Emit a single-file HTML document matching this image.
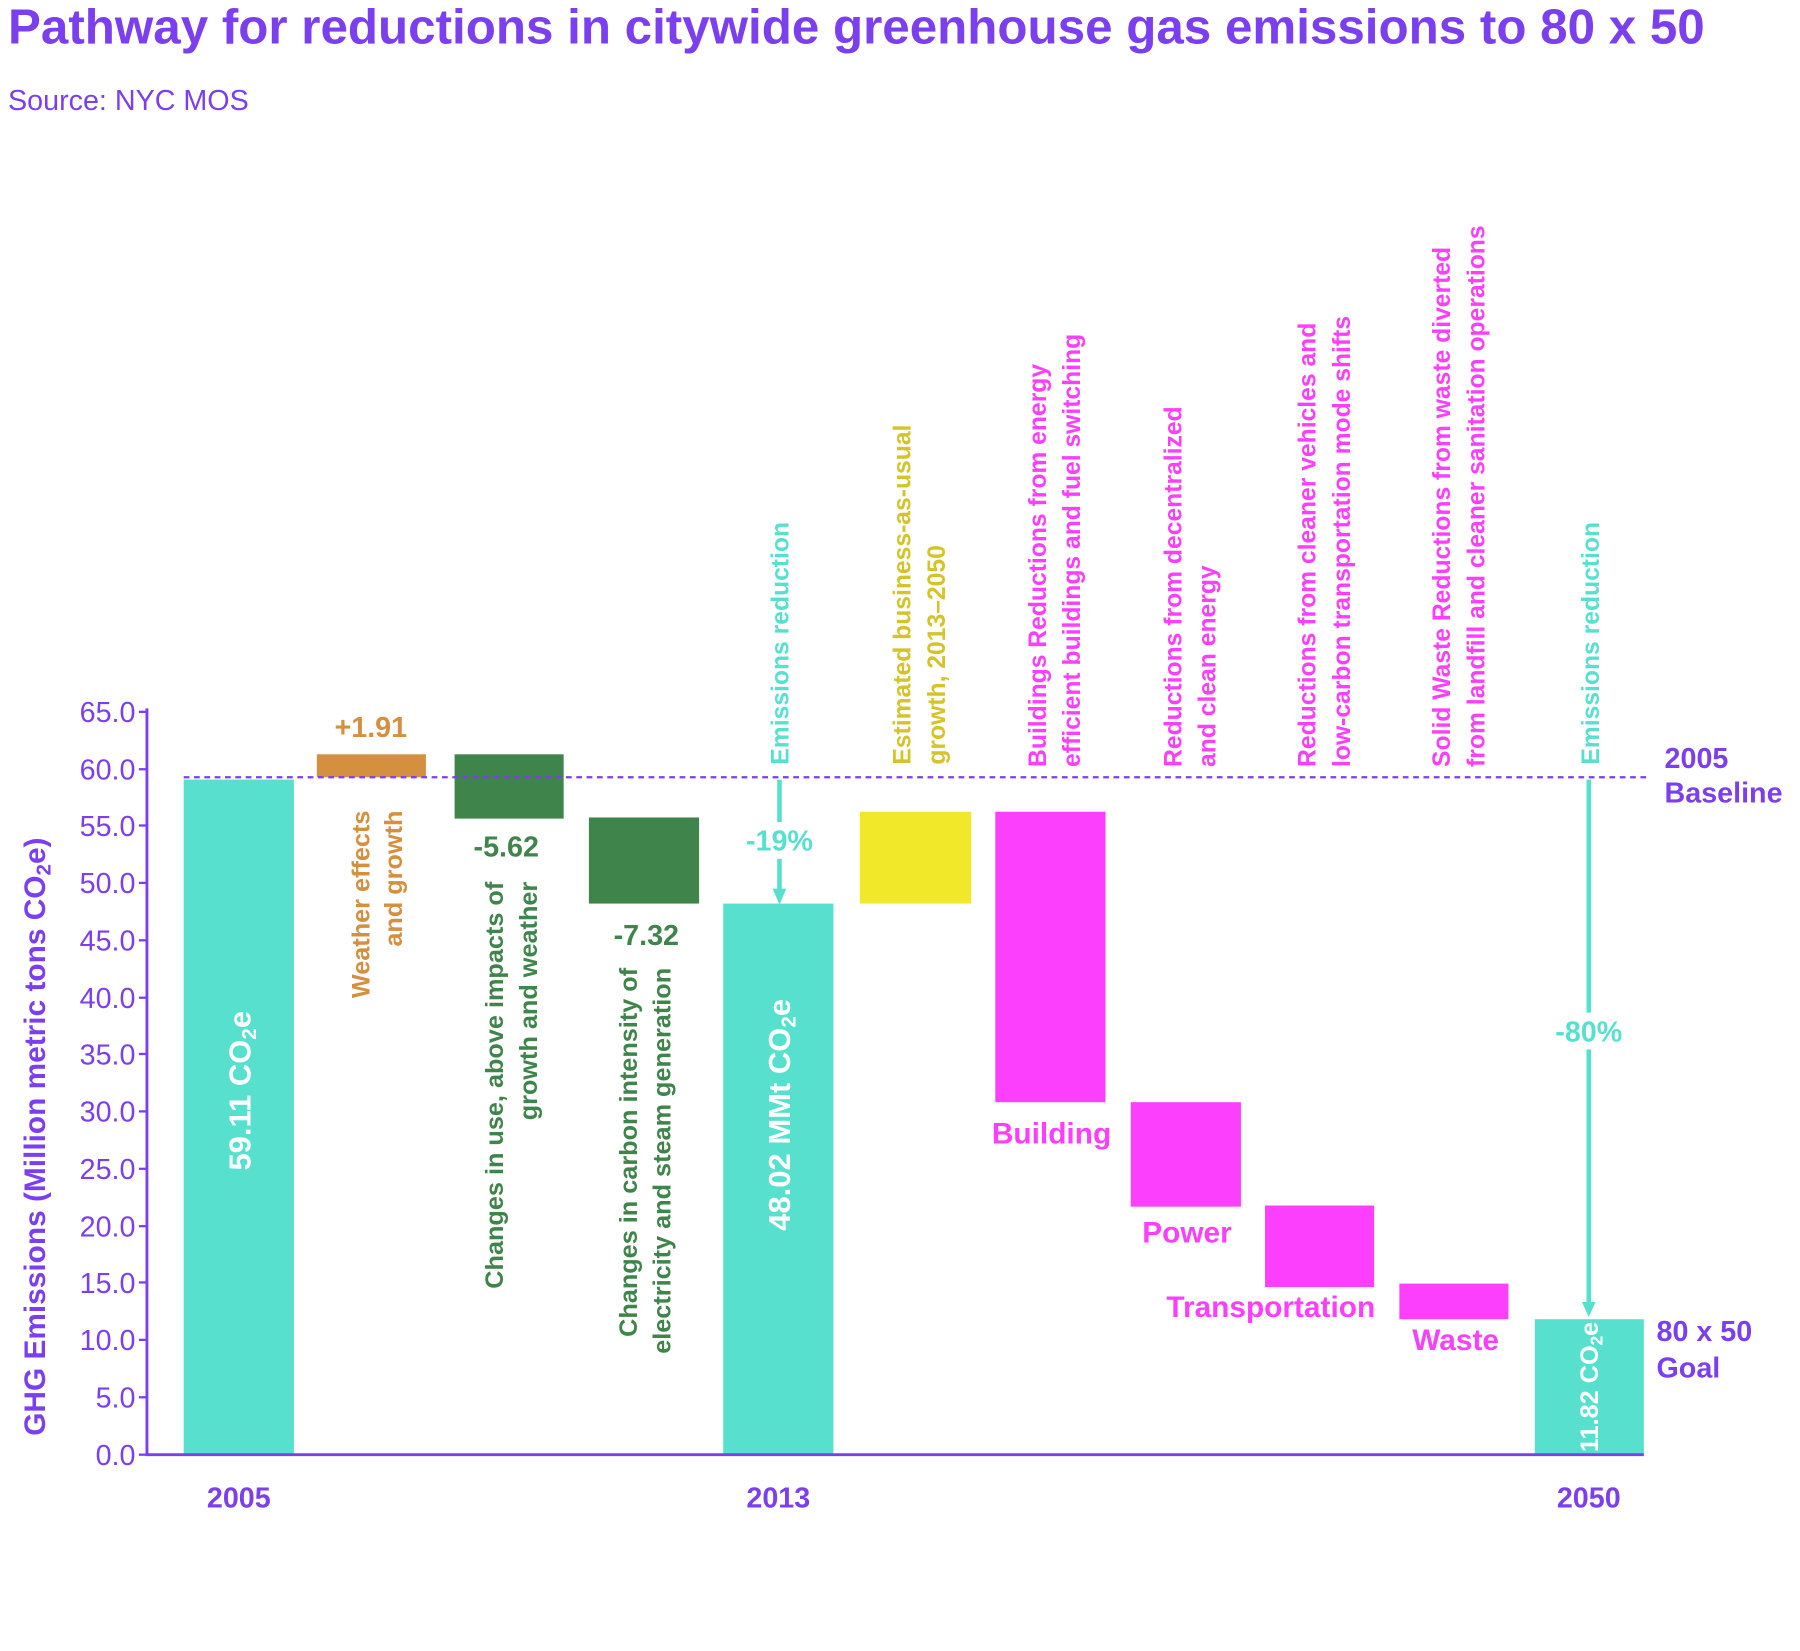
<!DOCTYPE html>
<html><head><meta charset="utf-8"><style>
html,body{margin:0;padding:0;background:#fff;}
svg{display:block;}
text{font-family:"Liberation Sans",Arial,sans-serif;}
</style></head><body>
<svg width="1800" height="1651" viewBox="0 0 1568 1438" preserveAspectRatio="none" xmlns="http://www.w3.org/2000/svg">
<rect width="1568" height="1438" fill="#fff"/>
<text x="7" y="38" font-size="43" font-weight="bold" fill="#7b3ff0" textLength="1478" lengthAdjust="spacingAndGlyphs">Pathway for reductions in citywide greenhouse gas emissions to 80 x 50</text>
<text x="7" y="96" font-size="25" fill="#7b3ff0">Source: NYC MOS</text>

<!-- bars -->
<rect x="160" y="679" width="96" height="588" fill="#58e0cf"/>
<rect x="276" y="657" width="95" height="20" fill="#d48f3f"/>
<rect x="396" y="657" width="95" height="56" fill="#3f844a"/>
<rect x="513" y="712" width="96" height="75" fill="#3f844a"/>
<rect x="630" y="787" width="96" height="480" fill="#58e0cf"/>
<rect x="749" y="707" width="97" height="80" fill="#f2e82a"/>
<rect x="867" y="707" width="96" height="253" fill="#fc3ffc"/>
<rect x="985" y="960" width="96" height="91" fill="#fc3ffc"/>
<rect x="1102" y="1050" width="95" height="71" fill="#fc3ffc"/>
<rect x="1219" y="1118" width="95" height="31" fill="#fc3ffc"/>
<rect x="1337" y="1149" width="95" height="118" fill="#58e0cf"/>

<!-- axes -->
<g stroke="#7b3ff0" stroke-width="2.5">
<line x1="128" y1="617" x2="128" y2="1268"/>
<line x1="127" y1="1267" x2="1432" y2="1267"/>
</g>
<g stroke="#7b3ff0" stroke-width="2">
<line x1="121" y1="620" x2="128" y2="620"/><line x1="121" y1="670" x2="128" y2="670"/>
<line x1="121" y1="719" x2="128" y2="719"/><line x1="121" y1="769" x2="128" y2="769"/>
<line x1="121" y1="819" x2="128" y2="819"/><line x1="121" y1="869" x2="128" y2="869"/>
<line x1="121" y1="918" x2="128" y2="918"/><line x1="121" y1="968" x2="128" y2="968"/>
<line x1="121" y1="1018" x2="128" y2="1018"/><line x1="121" y1="1068" x2="128" y2="1068"/>
<line x1="121" y1="1117" x2="128" y2="1117"/><line x1="121" y1="1167" x2="128" y2="1167"/>
<line x1="121" y1="1217" x2="128" y2="1217"/><line x1="121" y1="1267" x2="128" y2="1267"/>
</g>
<g font-size="25" fill="#7b3ff0" text-anchor="end">
<text x="118" y="629">65.0</text><text x="118" y="679">60.0</text><text x="118" y="728">55.0</text>
<text x="118" y="778">50.0</text><text x="118" y="828">45.0</text><text x="118" y="878">40.0</text>
<text x="118" y="927">35.0</text><text x="118" y="977">30.0</text><text x="118" y="1027">25.0</text>
<text x="118" y="1077">20.0</text><text x="118" y="1126">15.0</text><text x="118" y="1176">10.0</text>
<text x="118" y="1226">5.0</text><text x="118" y="1276">0.0</text>
</g>
<text transform="translate(39,990) rotate(-90)" text-anchor="middle" font-size="26" font-weight="bold" fill="#7b3ff0">GHG Emissions (Million metric tons CO<tspan font-size="18" dy="5">2</tspan><tspan dy="-5">e)</tspan></text>

<!-- baseline -->
<line x1="160" y1="677" x2="1437" y2="677" stroke="#7b3ff0" stroke-width="2" stroke-dasharray="5,4"/>

<!-- x labels -->
<g font-size="25" font-weight="bold" fill="#7b3ff0" text-anchor="middle">
<text x="208" y="1313">2005</text><text x="678" y="1313">2013</text><text x="1384" y="1313">2050</text>
</g>
<g font-size="25" font-weight="bold" fill="#7b3ff0">
<text x="1450" y="669">2005</text><text x="1450" y="699">Baseline</text>
<text x="1443" y="1168">80 x 50</text><text x="1443" y="1200">Goal</text>
</g>

<!-- value labels -->
<g font-size="25" font-weight="bold" text-anchor="middle">
<text x="323" y="642" fill="#d48f3f">+1.91</text>
<text x="441" y="746" fill="#3f844a">-5.62</text>
<text x="563" y="823" fill="#3f844a">-7.32</text>
</g>

<!-- rotated category labels -->
<g font-size="22" font-weight="bold" text-anchor="end">
<text transform="translate(322,706) rotate(-90)" fill="#d48f3f">Weather effects</text>
<text transform="translate(350,706) rotate(-90)" fill="#d48f3f">and growth</text>
<text transform="translate(438,768) rotate(-90)" fill="#3f844a">Changes in use, above impacts of</text>
<text transform="translate(468,768) rotate(-90)" fill="#3f844a">growth and weather</text>
<text transform="translate(555,843) rotate(-90)" fill="#3f844a">Changes in carbon intensity of</text>
<text transform="translate(584,843) rotate(-90)" fill="#3f844a">electricity and steam generation</text>
</g>
<g font-size="21.5" font-weight="bold" text-anchor="start">
<text transform="translate(687,666) rotate(-90)" fill="#58e0cf">Emissions reduction</text>
<text transform="translate(793,666) rotate(-90)" fill="#d4c42a">Estimated business-as-usual</text>
<text transform="translate(823,666) rotate(-90)" fill="#d4c42a">growth, 2013–2050</text>
<text transform="translate(911,668) rotate(-90)" fill="#fc3ffc">Buildings Reductions from energy</text>
<text transform="translate(941,668) rotate(-90)" fill="#fc3ffc">efficient buildings and fuel switching</text>
<text transform="translate(1029,668) rotate(-90)" fill="#fc3ffc">Reductions from decentralized</text>
<text transform="translate(1059,668) rotate(-90)" fill="#fc3ffc">and clean energy</text>
<text transform="translate(1146,668) rotate(-90)" fill="#fc3ffc">Reductions from cleaner vehicles and</text>
<text transform="translate(1176,668) rotate(-90)" fill="#fc3ffc">low-carbon transportation mode shifts</text>
<text transform="translate(1263,668) rotate(-90)" fill="#fc3ffc">Solid Waste Reductions from waste diverted</text>
<text transform="translate(1293,668) rotate(-90)" fill="#fc3ffc">from landfill and cleaner sanitation operations</text>
<text transform="translate(1393,666) rotate(-90)" fill="#58e0cf">Emissions reduction</text>
</g>

<!-- arrows -->
<g stroke="#58e0cf" stroke-width="4">
<line x1="679" y1="679" x2="679" y2="777"/>
<line x1="1384" y1="679" x2="1384" y2="1137"/>
</g>
<polygon points="673,774 685,774 679,788" fill="#58e0cf"/>
<polygon points="1378,1134 1390,1134 1384,1147" fill="#58e0cf"/>
<rect x="640" y="716" width="78" height="32" fill="#fff"/>
<text x="679" y="741" text-anchor="middle" font-size="25" font-weight="bold" fill="#58e0cf">-19%</text>
<rect x="1345" y="882" width="78" height="32" fill="#fff"/>
<text x="1384" y="907" text-anchor="middle" font-size="25" font-weight="bold" fill="#58e0cf">-80%</text>

<!-- bar inner labels -->
<g font-weight="bold" fill="#fff" text-anchor="middle">
<text transform="translate(218,950) rotate(-90)" font-size="27">59.11 CO<tspan font-size="18" dy="5">2</tspan><tspan dy="-5">e</tspan></text>
<text transform="translate(688,971) rotate(-90)" font-size="27">48.02 MMt CO<tspan font-size="18" dy="5">2</tspan><tspan dy="-5">e</tspan></text>
<text transform="translate(1392,1208) rotate(-90)" font-size="22">11.82 CO<tspan font-size="15" dy="4">2</tspan><tspan dy="-4">e</tspan></text>
</g>

<!-- magenta category labels -->
<g font-size="26" font-weight="bold" fill="#fc3ffc" text-anchor="middle">
<text x="916" y="996">Building</text>
<text x="1034" y="1082">Power</text>
<text x="1107" y="1147">Transportation</text>
<text x="1268" y="1176">Waste</text>
</g>
</svg>
</body></html>
